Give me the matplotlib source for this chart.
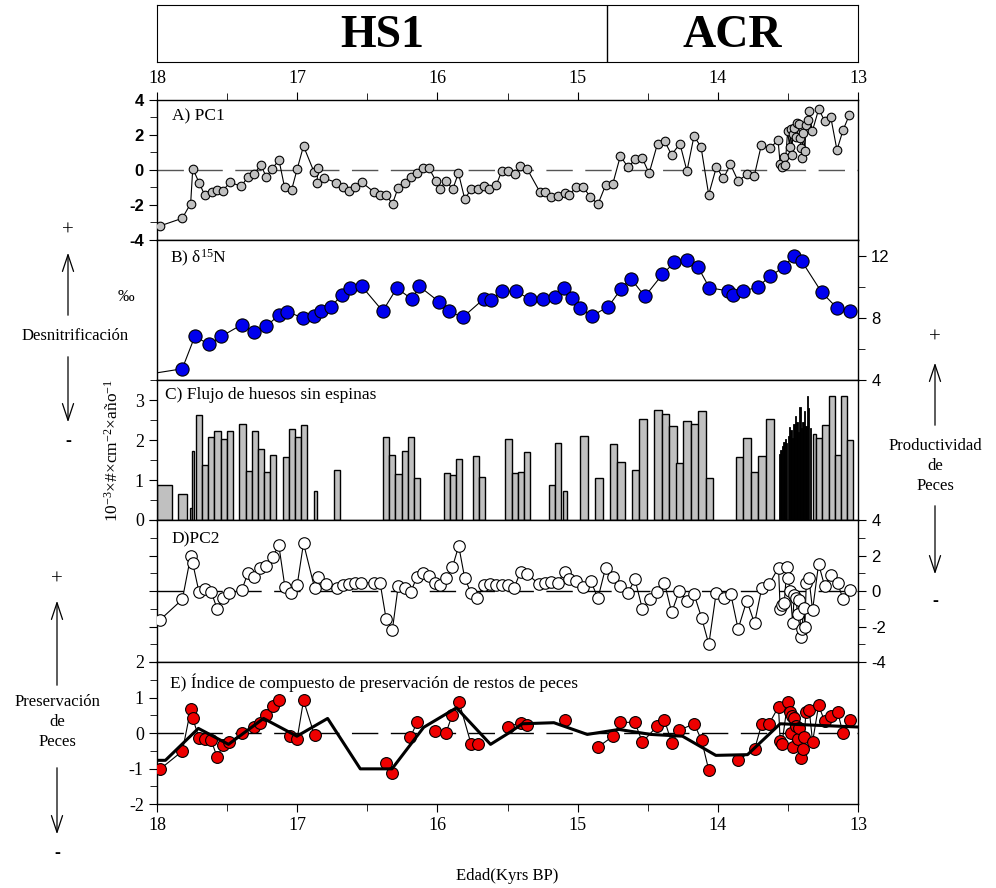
import matplotlib
matplotlib.use("Agg")
import matplotlib.pyplot as plt
import numpy as np
from matplotlib.ticker import MultipleLocator, FixedLocator

plt.rcParams['font.family'] = ['Liberation Serif', 'DejaVu Serif']
plt.rcParams['mathtext.fontset'] = 'custom'
plt.rcParams['mathtext.rm'] = 'Liberation Serif'
plt.rcParams['mathtext.it'] = 'Liberation Serif:italic'
plt.rcParams['axes.unicode_minus'] = False

# ---------------- data ----------------
x_ticks = [18, 17, 16, 15, 14, 13]
x_tick_labels = ['18', '17', '16', '15', '14', '13']
period_names = ['HS1', 'ACR']
period_bounds = [18.0, 14.79, 13.0]

pc1_age = [17.98, 17.82, 17.76, 17.745, 17.70, 17.66, 17.61, 17.57, 17.53, 17.48, 17.40, 17.35, 17.31,
           17.26, 17.22, 17.18, 17.13, 17.09, 17.04, 17.00, 16.955, 16.88, 16.85, 16.86, 16.81, 16.72,
           16.67, 16.63, 16.59, 16.54, 16.455, 16.41, 16.37, 16.32, 16.28, 16.23, 16.19, 16.145, 16.10,
           16.06, 16.01, 15.98, 15.94, 15.89, 15.85, 15.805, 15.76, 15.71, 15.67, 15.63, 15.58, 15.54,
           15.50, 15.45, 15.41, 15.36, 15.27, 15.23, 15.19, 15.14, 15.09, 15.06, 15.01, 14.96, 14.91,
           14.855, 14.80, 14.75, 14.695, 14.64, 14.59, 14.54, 14.49, 14.43, 14.38, 14.33, 14.27, 14.22,
           14.17, 14.12, 14.065, 14.01, 13.96, 13.91, 13.855, 13.79, 13.74, 13.69, 13.63, 13.57,
           13.555, 13.543, 13.526, 13.519, 13.502, 13.488, 13.481, 13.471, 13.466, 13.455, 13.443,
           13.438, 13.424, 13.414, 13.405, 13.40, 13.393, 13.379, 13.371, 13.355, 13.35, 13.326, 13.28,
           13.238, 13.195, 13.15, 13.107, 13.062]
pc1_val = [-3.2, -2.76, -1.92, 0.08, -0.72, -1.43, -1.24, -1.14, -1.18, -0.70, -0.93, -0.38, -0.25,
           0.29, -0.40, 0.06, 0.57, -0.99, -1.14, 0.06, 1.37, -0.11, 0.10, -0.72, -0.46, -0.72,
           -0.99, -1.20, -0.95, -0.70, -1.24, -1.43, -1.43, -1.92, -1.01, -0.76, -0.40, -0.19, 0.11,
           0.10, -0.63, -1.09, -0.61, -1.09, -0.17, -1.66, -1.10, -1.09, -0.93, -1.10, -0.86, -0.04,
           -0.06, -0.25, 0.21, 0.06, -1.24, -1.26, -1.52, -1.49, -1.30, -1.41, -0.99, -0.99, -1.52,
           -1.96, -0.86, -0.82, 0.80, 0.15, 0.61, 0.70, -0.19, 1.50, 1.66, 0.87, 1.50, -0.06,
           1.93, 1.33, -1.41, 0.17, -0.48, 0.32, -0.63, -0.23, -0.34, 1.41, 1.24, 1.70,
           0.32, 0.19, 0.76, 0.29, 2.23, 1.33, 2.32, 0.86, 2.04, 2.42, 1.90,
           2.70, 2.61, 1.85, 1.28, 0.67, 2.13, 1.09, 2.57, 2.84, 3.37, 2.21, 3.49,
           2.80, 3.05, 1.14, 2.27, 3.14]

d15n_age = [18.05, 17.82, 17.73, 17.63, 17.54, 17.395, 17.31, 17.22, 17.13, 17.07, 16.96, 16.88, 16.83,
            16.76, 16.68, 16.62, 16.54, 16.39, 16.29, 16.18, 16.13, 15.99, 15.92, 15.82, 15.67, 15.62,
            15.54, 15.44, 15.34, 15.25, 15.16, 15.10, 15.04, 14.98, 14.90, 14.78, 14.69, 14.62, 14.52,
            14.395, 14.31, 14.22, 14.14, 14.06, 13.93, 13.895, 13.82, 13.71, 13.63, 13.53, 13.46, 13.40,
            13.26, 13.15, 13.055]
d15n_val = [4.39, 4.72, 6.81, 6.29, 6.81, 7.56, 7.11, 7.47, 8.17, 8.40, 7.98, 8.13, 8.44,
            8.72, 9.46, 9.94, 10.03, 8.43, 9.90, 9.19, 10.03, 9.04, 8.44, 8.02, 9.21, 9.12,
            9.69, 9.71, 9.19, 9.23, 9.31, 9.90, 9.29, 8.65, 8.11, 8.72, 9.86, 10.52, 9.37,
            10.79, 11.56, 11.70, 11.24, 9.93, 9.73, 9.44, 9.71, 9.99, 10.67, 11.24, 11.98, 11.62,
            9.65, 8.63, 8.46]

flux_age = [17.948, 17.816, 17.757, 17.743, 17.699, 17.655, 17.612, 17.568, 17.524, 17.479, 17.39, 17.345,
            17.302, 17.259, 17.214, 17.171, 17.083, 17.038, 16.993, 16.95, 16.871, 16.716, 16.364, 16.321,
            16.276, 16.231, 16.186, 16.143, 15.934, 15.89, 15.845, 15.723, 15.679, 15.494, 15.448, 15.405,
            15.361, 15.186, 15.141, 15.089, 14.955, 14.85, 14.744, 14.69, 14.588, 14.535, 14.427, 14.374,
            14.321, 14.27, 14.218, 14.164, 14.111, 14.059, 13.845, 13.791, 13.738, 13.684, 13.626, 13.312,
            13.279, 13.233, 13.188, 13.145, 13.101, 13.057]
flux_val = [0.87, 0.64, 0.31, 1.73, 2.63, 1.38, 2.08, 2.23, 2.02, 2.23, 2.40, 1.22,
            2.23, 1.78, 1.21, 1.63, 1.58, 2.27, 2.07, 2.37, 0.73, 1.24, 2.07, 1.63,
            1.14, 1.73, 2.07, 1.04, 1.17, 1.13, 1.53, 1.59, 1.08, 2.03, 1.17, 1.20,
            1.71, 0.87, 1.93, 0.73, 2.11, 1.05, 1.91, 1.45, 1.24, 2.52, 2.75, 2.65,
            2.34, 1.43, 2.48, 2.39, 2.72, 1.06, 1.58, 2.04, 1.21, 1.59, 2.53, 2.15,
            2.06, 2.38, 3.10, 1.63, 3.10, 1.99]
flux_width = [0.107, 0.064, 0.010, 0.018, 0.045, 0.043, 0.043, 0.046, 0.043, 0.047, 0.048, 0.043,
              0.043, 0.045, 0.043, 0.043, 0.043, 0.048, 0.043, 0.042, 0.019, 0.045, 0.043, 0.043,
              0.048, 0.043, 0.045, 0.043, 0.043, 0.043, 0.048, 0.045, 0.043, 0.050, 0.043, 0.042,
              0.046, 0.043, 0.045, 0.031, 0.057, 0.057, 0.055, 0.052, 0.052, 0.055, 0.055, 0.052,
              0.053, 0.050, 0.054, 0.053, 0.054, 0.050, 0.052, 0.055, 0.052, 0.057, 0.057, 0.024,
              0.043, 0.048, 0.043, 0.042, 0.045, 0.043]
flux_hr_age = [13.561, 13.550, 13.540, 13.529, 13.519, 13.508, 13.498, 13.487, 13.477, 13.466, 13.456,
               13.445, 13.435, 13.424, 13.414, 13.403, 13.393, 13.382, 13.372, 13.361, 13.351, 13.340]
flux_hr_val = [1.64, 1.75, 1.86, 1.96, 2.02, 1.92, 2.10, 2.33, 2.25, 2.05, 2.39,
               2.61, 2.46, 2.20, 2.82, 2.29, 2.46, 2.73, 2.35, 3.10, 2.79, 2.30]

pc2_age = [17.979, 17.819, 17.759, 17.745, 17.70, 17.657, 17.614, 17.571, 17.529, 17.484, 17.395, 17.352,
           17.307, 17.262, 17.219, 17.176, 17.131, 17.088, 17.043, 17.0, 16.955, 16.876, 16.85, 16.798,
           16.719, 16.674, 16.631, 16.586, 16.543, 16.455, 16.409, 16.366, 16.321, 16.279, 16.234, 16.191,
           16.145, 16.102, 16.059, 16.014, 15.979, 15.938, 15.893, 15.848, 15.805, 15.759, 15.714, 15.671,
           15.626, 15.584, 15.538, 15.498, 15.452, 15.407, 15.359, 15.274, 15.231, 15.188, 15.143, 15.091,
           15.062, 15.009, 14.959, 14.907, 14.855, 14.80, 14.748, 14.695, 14.643, 14.591, 14.538, 14.486,
           14.434, 14.381, 14.329, 14.274, 14.221, 14.169, 14.116, 14.064, 14.012, 13.959, 13.907, 13.855,
           13.793, 13.738, 13.686, 13.634, 13.567, 13.555, 13.543, 13.526, 13.507, 13.498, 13.484, 13.466,
           13.455, 13.443, 13.431, 13.419, 13.407, 13.40, 13.388, 13.379, 13.369, 13.35, 13.324, 13.281,
           13.238, 13.193, 13.145, 13.107, 13.059]
pc2_val = [-1.63, -0.47, 1.99, 1.56, -0.07, 0.10, -0.03, -1.01, -0.37, -0.13, 0.06, 1.00,
           0.81, 1.32, 1.41, 1.92, 2.57, 0.25, -0.13, 0.34, 2.69, 0.17, 0.77, 0.39,
           0.15, 0.34, 0.42, 0.47, 0.47, 0.47, 0.47, -1.56, -2.18, 0.30, 0.19, -0.07,
           0.81, 1.00, 0.85, 0.43, 0.36, 0.72, 1.34, 2.54, 0.72, -0.13, -0.37, 0.32,
           0.39, 0.34, 0.34, 0.34, 0.19, 1.09, 0.94, 0.39, 0.43, 0.51, 0.47, 1.09,
           0.68, 0.56, 0.25, 0.59, -0.41, 1.32, 0.81, 0.30, -0.13, 0.66, -1.01, -0.47,
           -0.06, 0.47, -1.20, 0.02, -0.58, -0.19, -1.50, -3.00, -0.13, -0.37, -0.19, -2.14,
           -0.54, -1.82, 0.19, 0.38, 1.32, -1.01, -0.79, -0.69, 1.37, 0.72, 0.02, -1.82,
           -0.23, -0.41, -1.30, -0.51, -2.57, -2.16, -0.97, -2.00, 0.43, 0.72, -1.07, 1.52,
           0.28, 0.90, 0.43, -0.45, 0.06]

pres_age = [17.979, 17.819, 17.759, 17.745, 17.70, 17.657, 17.614, 17.571, 17.529, 17.484, 17.395, 17.307,
            17.262, 17.219, 17.176, 17.131, np.nan, 17.05, 17.0, 16.955, 16.876, np.nan, 16.366, 16.321,
            np.nan, 16.193, 16.145, np.nan, 16.019, 15.94, 15.893, 15.845, 15.759, 15.712, np.nan, 15.5,
            15.407, 15.359, np.nan, 15.091, np.nan, 14.855, 14.748, 14.695, 14.591, 14.538, 14.434,
            14.381, 14.329, 14.274, 14.169, 14.116, 14.064, np.nan, 13.855, 13.738, 13.686, 13.634,
            13.567, 13.555, 13.543, 13.502, 13.488, 13.479, 13.474, 13.466, 13.455, 13.443, 13.431,
            13.419, 13.407, 13.395, 13.384, 13.371, 13.348, 13.324, 13.281, 13.238, 13.193, 13.145,
            13.107, 13.059]
pres_val = [-1.02, -0.51, 0.68, 0.41, -0.14, -0.18, -0.20, -0.68, -0.35, -0.25, -0.01, 0.16,
            0.29, 0.52, 0.75, 0.94, np.nan, -0.09, -0.16, 0.92, -0.07, np.nan, -0.84, -1.12,
            np.nan, -0.12, 0.30, np.nan, 0.07, -0.01, 0.52, 0.87, -0.32, -0.30, np.nan, 0.17,
            0.29, 0.22, np.nan, 0.36, np.nan, -0.40, -0.09, 0.30, 0.30, -0.26, 0.19,
            0.38, -0.28, 0.08, 0.26, -0.20, -1.05, np.nan, -0.76, -0.46, 0.26, 0.26,
            0.74, -0.23, -0.32, 0.87, 0.60, 0.00, 0.47, -0.39, 0.43, 0.19, -0.18,
            0.13, -0.70, -0.46, -0.12, 0.60, 0.66, -0.25, 0.78, 0.33, 0.47, 0.59,
            -0.01, 0.37]

pres_smooth_age = [18.0, 17.94, 17.705, 17.49, 17.24, 17.002, 16.783, 16.55, 16.324, 16.098, 15.864,
                   15.621, 15.479, 15.395, 15.169, 14.931, 14.705, 14.479, 14.252, 14.014, 13.788,
                   13.555, 13.007]
pres_smooth_val = [-0.77, -0.77, 0.13, -0.32, 0.41, -0.09, 0.41, -1.01, -1.01, 0.16, 0.71,
                   -0.32, 0.03, 0.26, 0.29, -0.04, 0.10, -0.04, -0.09, -0.63, -0.61,
                   0.26, 0.17]

panel_titles = ['A) PC1', r'B) δ$^{15}$N', 'C) Flujo de huesos sin espinas', 'D)PC2',
                'E) Índice de compuesto de preservación de restos de peces']

# ---------------- figure ----------------
W, H = 996, 888
fig = plt.figure(figsize=(W / 100, H / 100), dpi=100)


def fx(x):
    return x / W


def fy(y):
    return 1 - y / H


L, R = 157, 858
bounds = [(100, 240), (240, 380), (380, 520), (520, 662), (662, 804)]
axes = []
for top, bot in bounds:
    ax = fig.add_axes([fx(L), fy(bot), fx(R) - fx(L), (bot - top) / H])
    ax.set_xlim(18, 13)
    ax.tick_params(axis='x', which='both', bottom=False, top=False, labelbottom=False, labeltop=False)
    ax.tick_params(axis='y', which='both', left=False, right=False, labelleft=False, labelright=False)
    for s in ax.spines.values():
        s.set_linewidth(1.0)
    axes.append(ax)
axA, axB, axC, axD, axE = axes

serif_tick = dict(fontfamily='Liberation Serif', fontsize=13)

# header
axH = fig.add_axes([fx(L), fy(62), fx(R) - fx(L), (62 - 5) / H])
axH.set_xlim(18, 13)
axH.set_ylim(0, 1)
axH.set_xticks([])
axH.set_yticks([])
axH.axvline(period_bounds[1], color='black', lw=1.0)
for name, a0, a1 in zip(period_names, period_bounds[:-1], period_bounds[1:]):
    axH.text((a0 + a1) / 2, 0.45, name, ha='center', va='center', fontsize=33,
             fontweight='bold', fontfamily='Liberation Serif')

dash = (0, (19, 9))

# Panel A
axA.plot(pc1_age, pc1_val, '-', color='black', lw=0.8, marker='o', ms=6.2,
         mfc='#c0c0c0', mec='black', mew=0.8, zorder=3)
axA.axhline(0, color='#555555', lw=1.0, linestyle=dash, zorder=1)
axA.set_ylim(-4, 4)
axA.yaxis.set_major_locator(FixedLocator([-4, -2, 0, 2, 4]))
axA.yaxis.set_minor_locator(MultipleLocator(1))
axA.tick_params(axis='y', which='both', left=True, labelleft=True, direction='out')
axA.tick_params(axis='y', which='major', length=6)
axA.tick_params(axis='y', which='minor', length=5)
for t in axA.get_yticklabels():
    t.set_fontfamily('Liberation Sans')
    t.set_fontweight('bold')
    t.set_fontsize(12)
axA.set_xticks(x_ticks)
axA.set_xticklabels(x_tick_labels, **serif_tick)
axA.xaxis.set_minor_locator(MultipleLocator(0.5))
axA.tick_params(axis='x', which='both', top=True, labeltop=True, direction='out')
axA.tick_params(axis='x', which='major', length=6)
axA.tick_params(axis='x', which='minor', length=5)

# Panel B
axB.plot(d15n_age, d15n_val, '-', color='black', lw=0.8, marker='o', ms=9.5,
         mfc='#0000ee', mec='black', mew=0.8, zorder=3)
axB.set_ylim(4, 13)
axB.yaxis.set_major_locator(FixedLocator([4, 8, 12]))
axB.yaxis.set_minor_locator(FixedLocator([6, 10]))
axB.tick_params(axis='y', which='both', right=True, labelright=True, direction='out')
axB.tick_params(axis='y', which='major', length=6)
axB.tick_params(axis='y', which='minor', length=5)
for t in axB.get_yticklabels():
    t.set_fontfamily('Liberation Sans')
    t.set_fontsize(12)

# Panel C
axC.bar(flux_age, flux_val, width=flux_width, color='#c0c0c0', edgecolor='black', lw=1.0, zorder=2)
axC.bar(flux_hr_age, flux_hr_val, width=0.0095, color='black', edgecolor='black', lw=0.6, zorder=3)
axC.set_ylim(0, 3.5)
axC.yaxis.set_major_locator(FixedLocator([0, 1, 2, 3]))
axC.yaxis.set_minor_locator(MultipleLocator(0.5))
axC.tick_params(axis='y', which='both', left=True, labelleft=True, direction='out')
axC.tick_params(axis='y', which='major', length=6)
axC.tick_params(axis='y', which='minor', length=5)
for t in axC.get_yticklabels():
    t.set_fontfamily('Liberation Serif')
    t.set_fontsize(13)

# Panel D
axD.plot(pc2_age, pc2_val, '-', color='black', lw=0.8, marker='o', ms=8.3,
         mfc='white', mec='black', mew=0.8, zorder=3)
axD.axhline(0, color='black', lw=1.0, linestyle=dash, zorder=1)
axD.set_ylim(-4, 4)
axD.yaxis.set_major_locator(FixedLocator([-4, -2, 0, 2, 4]))
axD.yaxis.set_minor_locator(MultipleLocator(1))
axD.tick_params(axis='y', which='both', right=True, labelright=True, left=True, direction='out')
axD.tick_params(axis='y', which='major', length=6)
axD.tick_params(axis='y', which='minor', length=5)
for t in axD.get_yticklabels():
    t.set_fontfamily('Liberation Sans')
    t.set_fontsize(12)

# Panel E
axE.plot(pres_age, pres_val, '-', color='black', lw=0.8, marker='o', ms=8.5,
         mfc='#ee0000', mec='black', mew=0.8, zorder=3)
axE.plot(pres_smooth_age, pres_smooth_val, '-', color='black', lw=2.2, zorder=4)
axE.axhline(0, color='black', lw=1.0, linestyle=dash, zorder=1)
axE.set_ylim(-2, 2)
axE.yaxis.set_major_locator(FixedLocator([-2, -1, 0, 1, 2]))
axE.yaxis.set_minor_locator(MultipleLocator(0.5))
axE.tick_params(axis='y', which='both', left=True, labelleft=True, direction='out')
axE.tick_params(axis='y', which='major', length=6)
axE.tick_params(axis='y', which='minor', length=5)
for t in axE.get_yticklabels():
    t.set_fontfamily('Liberation Serif')
    t.set_fontsize(13)
axE.set_xticks(x_ticks)
axE.set_xticklabels(x_tick_labels, **serif_tick)
axE.xaxis.set_minor_locator(MultipleLocator(0.5))
axE.tick_params(axis='x', which='both', bottom=True, labelbottom=True, direction='out')
axE.tick_params(axis='x', which='major', length=6)
axE.tick_params(axis='x', which='minor', length=5)
axE.set_xlabel('Edad(Kyrs BP)', fontsize=12, fontfamily='Liberation Serif', labelpad=24)

# panel titles
title_pos = [(0.021, 0.88), (0.019, 0.87), (0.011, 0.89), (0.021, 0.866), (0.019, 0.852)]
for ax, ttl, (tx, ty) in zip(axes, panel_titles, title_pos):
    ax.text(tx, ty, ttl, transform=ax.transAxes, ha='left', va='center', fontsize=12.5,
            fontfamily='Liberation Serif', zorder=6)

# side annotations
fig.text(fx(126), fy(297), '‰', ha='center', va='center', fontsize=12)
fig.text(fx(113), fy(450), r'10$^{-3}$×#×cm$^{-2}$×año$^{-1}$', rotation=90,
         ha='center', va='center', fontsize=12.5)


def arrow(x, y0, y1):
    fig.add_artist(matplotlib.patches.FancyArrowPatch(
        (fx(x), fy(y0)), (fx(x), fy(y1)), transform=fig.transFigure,
        arrowstyle='->,head_length=12,head_width=4', mutation_scale=1, lw=0.9, color='black'))


lbl = dict(ha='center', va='center', fontsize=12)
plus = dict(ha='center', va='center', fontsize=15)
# Desnitrificacion
fig.text(fx(68), fy(231), '+', **plus)
arrow(68, 318, 250)
fig.text(fx(75), fy(336), 'Desnitrificación', **lbl)
arrow(68, 354, 425)
fig.text(fx(68), fy(441), '-', ha='center', va='center', fontsize=13, fontweight='bold')
# Preservacion
fig.text(fx(57), fy(580), '+', **plus)
arrow(57, 688, 598)
fig.text(fx(57), fy(722), 'Preservación\nde\nPeces', linespacing=1.3, **lbl)
arrow(57, 765, 837)
fig.text(fx(57), fy(853), '-', ha='center', va='center', fontsize=13, fontweight='bold')
# Productividad
fig.text(fx(935), fy(338), '+', **plus)
arrow(935, 428, 360)
fig.text(fx(935), fy(466), 'Productividad\nde\nPeces', linespacing=1.3, **lbl)
arrow(935, 503, 577)
fig.text(fx(935), fy(602), '-', ha='center', va='center', fontsize=13, fontweight='bold')

fig.savefig('out.png', dpi=100)
